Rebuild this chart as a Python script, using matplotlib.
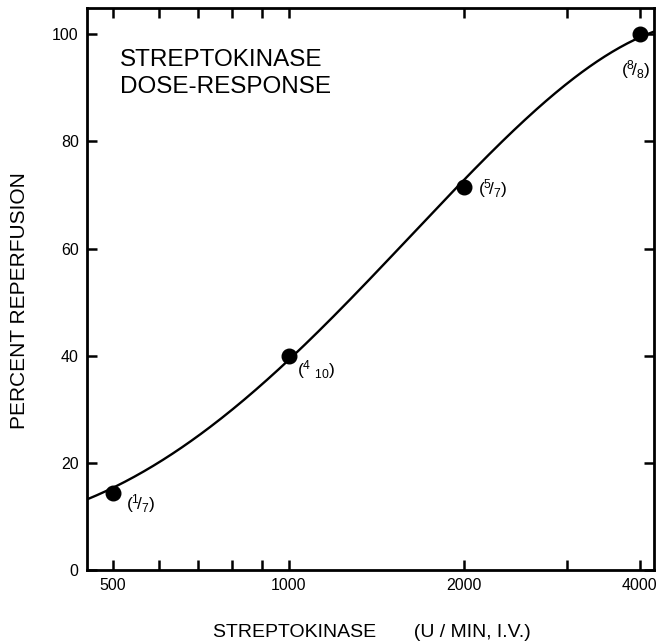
import numpy as np
import matplotlib
matplotlib.use("Agg")
import matplotlib.pyplot as plt
from matplotlib.ticker import FixedLocator, NullFormatter, FixedFormatter

plt.rcParams['font.family'] = ['Liberation Sans', 'DejaVu Sans']
plt.rcParams['mathtext.fontset'] = 'custom'
plt.rcParams['mathtext.rm'] = 'Liberation Sans'
plt.rcParams['mathtext.it'] = 'Liberation Sans'
plt.rcParams['mathtext.default'] = 'regular'

# Data points
doses = [500, 1000, 2000, 4000]
percent = [14.3, 40.0, 71.4, 100.0]
fractions = [r'$(^{1}\!/_{7})$', r'$(^{4}\;_{10})$', r'$(^{5}\!/_{7})$', r'$(^{8}\!/_{8})$']

# Fitted curve
curve_dose = [451, 500, 664, 808, 1000, 1420, 2000, 2908, 3541, 4000, 4230]
curve_pct = [13.1, 15.5, 23.3, 30.2, 39.0, 56.5, 72.2, 89.8, 96.5, 99.4, 100.4]

major_ticks = [500, 1000, 2000, 4000]
major_labels = ['500', '1000', '2000', '4000']
minor_ticks = [600, 700, 800, 900, 3000]
y_ticks = [0, 20, 40, 60, 80, 100]

fig = plt.figure(figsize=(6.58, 6.41), dpi=100)
ax = fig.add_axes([87/658, 71/641, (654-87)/658, (570-8)/641])

# smooth curve via polynomial fit in log space
lx = np.log2(curve_dose)
coef = np.polyfit(lx, curve_pct, 4)
xs = np.linspace(lx[0], lx[-1], 300)
ax.plot(2**xs, np.polyval(coef, xs), color='black', lw=1.7, zorder=2)

ax.plot(doses, percent, 'o', color='black', ms=10.5, zorder=3, clip_on=False)

offsets = [(13, -10), (8, -14), (14, -1), (-19, -35)]
for d, p, f, off in zip(doses, percent, fractions, offsets):
    ax.annotate(f, (d, p), xytext=off, textcoords='offset pixels',
                fontsize=12.5, ha='left', va='center')

ax.set_xscale('log')
ax.set_xlim(451, 4230)
ax.set_ylim(0, 104.9)

ax.xaxis.set_major_locator(FixedLocator(major_ticks))
ax.xaxis.set_major_formatter(FixedFormatter(major_labels))
ax.xaxis.set_minor_locator(FixedLocator(minor_ticks))
ax.xaxis.set_minor_formatter(NullFormatter())
ax.set_yticks(y_ticks)
ax.yaxis.set_minor_locator(FixedLocator([]))

ax.tick_params(which='both', direction='in', top=True, right=True,
               width=1.8, labelsize=11.5, pad=6)
ax.tick_params(which='major', length=7)
ax.tick_params(which='minor', length=7)
for s in ax.spines.values():
    s.set_linewidth(2.0)

ax.text(0.058, 0.897, 'STREPTOKINASE', transform=ax.transAxes,
        fontsize=17.5, ha='left', va='baseline')
ax.text(0.058, 0.849, 'DOSE-RESPONSE', transform=ax.transAxes,
        fontsize=17.5, ha='left', va='baseline')

ax.set_xlabel('STREPTOKINASE       (U / MIN, I.V.)', fontsize=14)
ax.xaxis.set_label_coords(0.502, -0.096)
ax.set_ylabel('PERCENT REPERFUSION', fontsize=15)
ax.yaxis.set_label_coords(-0.102, 0.48)

fig.savefig('out.png', dpi=100)
